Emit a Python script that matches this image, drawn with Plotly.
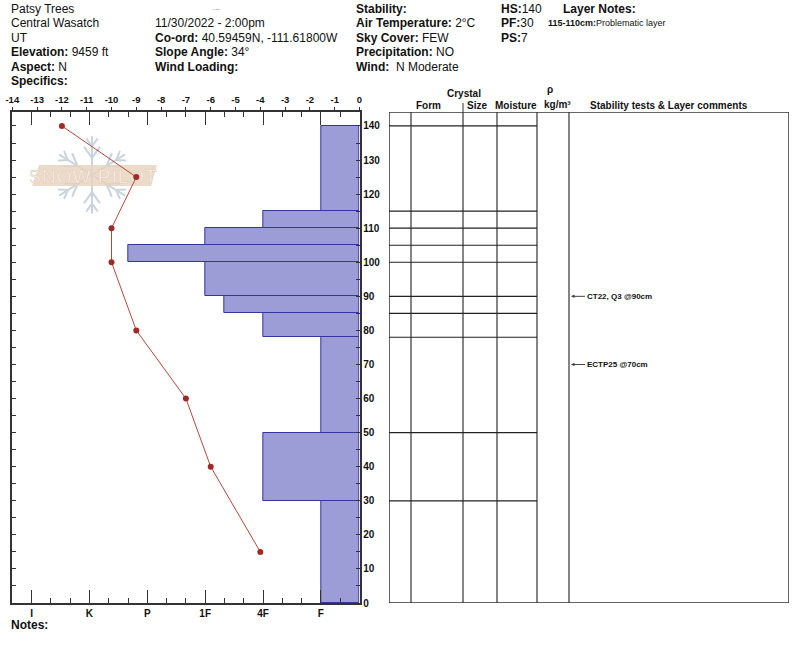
import base64
import math
import plotly.graph_objects as go

W, H = 800, 666

# snow layers, heights in cm above ground
layer_top = [140, 115, 110, 105, 100, 90, 85, 78, 50, 30]
layer_bottom = [115, 110, 105, 100, 90, 85, 78, 50, 30, 0]
layer_hardness = ["F", "4F", "1F", "P+", "1F", "1F-", "4F", "F", "4F", "F"]

# snow temperature profile
temp_height = [140, 125, 110, 100, 80, 60, 40, 15]
temp_c = [-12, -9, -10, -10, -9, -7, -6, -4]

# hand hardness scale (index units from the snow surface side)
hardness_labels = ["F", "4F", "1F", "P", "K", "I"]
hardness_index = [2, 5, 8, 11, 14, 17]

temp_ticks = list(range(-14, 1))
height_ticks = list(range(0, 141, 10))

# stability tests
test_names = ["CT22, Q3", "ECTP25"]
test_height = [90, 70]

# header info
site = ["Patsy Trees", "Central Wasatch", "UT"]
elevation = "9459 ft"
aspect = "N"
obs_time = "11/30/2022 - 2:00pm"
coord = "40.59459N, -111.61800W"
slope_angle = "34°"
air_temp = "2°C"
sky_cover = "FEW"
precip = "NO"
wind = "N Moderate"
hs, pf, ps = 140, 30, 7
layer_notes = [("115-110cm", "Problematic layer")]


def px(x):
    return x / W


def py(y):
    return 1 - y / H


hmap = dict(zip(hardness_labels, hardness_index))


def hard_val(h):
    v = hmap[h.rstrip("+-")]
    if h.endswith("+"):
        v += 1
    elif h.endswith("-"):
        v -= 1
    return v


mid = [(t + b) / 2 for t, b in zip(layer_top, layer_bottom)]
thick = [t - b for t, b in zip(layer_top, layer_bottom)]
hvals = [hard_val(h) for h in layer_hardness]

YMAX = 144.1
ydom = [py(603), py(112)]
font = "Liberation Sans, Arial, sans-serif"
axc = "#333333"

fig = go.Figure()

fig.add_trace(go.Bar(
    y=mid, x=hvals, width=thick, orientation="h",
    xaxis="x", yaxis="y",
    marker=dict(color="#9c9cd6", line=dict(color="#3535a0", width=1)),
    hoverinfo="skip",
))

fig.add_trace(go.Scatter(
    x=temp_c, y=temp_height, xaxis="x2", yaxis="y",
    mode="lines+markers",
    line=dict(color="#b5483c", width=1),
    marker=dict(color="#a02a26", size=6),
))

# snowpilot watermark (decorative)
cx, cy, L = 62, 40, 38
parts = []
for ang in [90, 32, -32, -90, -148, 148]:
    a = math.radians(ang)
    ex, ey = cx + L * math.cos(a), cy - L * math.sin(a)
    parts.append(f'<line x1="{cx}" y1="{cy}" x2="{ex:.1f}" y2="{ey:.1f}"/>')
    for f, bl in [(0.45, 13), (0.75, 9)]:
        bx, by = cx + f * L * math.cos(a), cy - f * L * math.sin(a)
        for d in (35, -35):
            b = math.radians(ang + d)
            parts.append(f'<line x1="{bx:.1f}" y1="{by:.1f}" x2="{bx + bl * math.cos(b):.1f}" y2="{by - bl * math.sin(b):.1f}"/>')
svg = (
    '<svg xmlns="http://www.w3.org/2000/svg" width="130" height="80" viewBox="0 0 130 80">'
    '<g stroke="#c9d4de" stroke-width="2" stroke-linecap="round">' + "".join(parts) + '</g>'
    '<polygon points="9,30 127,30 121,51 2,51" fill="#e8d2bd" opacity="0.8"/>'
    '<text x="63" y="47.5" font-family="Liberation Sans, Arial" font-size="19" fill="#fbf7f2" '
    'stroke="#dcc3aa" stroke-width="0.5" text-anchor="middle" letter-spacing="1">SNOW PILOT</text>'
    '</svg>'
)
logo = "data:image/svg+xml;base64," + base64.b64encode(svg.encode()).decode()

# table frame and column lines
col_edges = [411, 463, 497, 537, 569]
shapes = [dict(type="rect", xref="x3", yref="y2", x0=389, x1=789, y0=0, y1=YMAX,
               line=dict(color=axc, width=1.5))]
for cxe in col_edges:
    shapes.append(dict(type="line", xref="x3", yref="y2", x0=cxe, x1=cxe, y0=0, y1=YMAX,
                       line=dict(color=axc, width=1.2)))
for t in layer_top:
    shapes.append(dict(type="line", xref="x3", yref="y2", x0=389, x1=537, y0=t, y1=t,
                       line=dict(color="#222222", width=1.2)))
shapes.append(dict(type="line", xref="paper", yref="paper", x0=px(463), x1=px(463),
                   y0=py(112), y1=py(103), line=dict(color=axc, width=1)))

ann = []


def txt(x, y, s, size=12, anchor="left", color="#111111"):
    ann.append(dict(x=px(x), y=py(y), xref="paper", yref="paper", text=s, showarrow=False,
                    xanchor=anchor, yanchor="middle", font=dict(family=font, size=size, color=color)))


rows = [9, 23.4, 37.8, 52.2, 66.6, 81]
col1 = site + [f"<b>Elevation:</b> {elevation}", f"<b>Aspect:</b> {aspect}", "<b>Specifics:</b>"]
col2 = ["", obs_time, f"<b>Co-ord:</b> {coord}", f"<b>Slope Angle:</b> {slope_angle}", "<b>Wind Loading:</b>"]
col3 = ["<b>Stability:</b>", f"<b>Air Temperature:</b> {air_temp}", f"<b>Sky Cover:</b> {sky_cover}",
        f"<b>Precipitation:</b> {precip}", f"<b>Wind:</b>  {wind}"]
col4 = [f"<b>HS:</b>{hs}", f"<b>PF:</b>{pf}", f"<b>PS:</b>{ps}"]
for x0, col in [(9, col1), (153, col2), (354, col3), (499, col4)]:
    for r, s in zip(rows, col):
        if s:
            txt(x0, r, s)
txt(211, 8, "...", size=8, color="#666666")
txt(561, 9, "<b>Layer Notes:</b>")
for i, (depth, note) in enumerate(layer_notes):
    txt(546, 23.4 + 14.4 * i, f"<b>{depth}:</b>{note}", size=9)

for x0, y0, s in [(464, 93, "Crystal"), (428, 106, "Form"), (477, 106, "Size"), (516, 106, "Moisture"),
                  (550, 90, "ρ"), (557, 104, "kg/m³"), (669, 106, "Stability tests &amp; Layer comments")]:
    txt(x0, y0, f"<b>{s}</b>", size=10, anchor="center")
txt(9, 624.5, "<b>Notes:</b>")

for name, h in zip(test_names, test_height):
    ann.append(dict(x=571, y=h, xref="x3", yref="y2", ax=14, ay=0, text=f"<b>{name} @{h}cm</b>",
                    showarrow=True, arrowhead=2, arrowsize=0.7, arrowwidth=1, arrowcolor="#444444",
                    xanchor="left", yanchor="middle", standoff=0,
                    font=dict(family=font, size=8, color="#111111")))

tickfont = dict(family=font, size=10, color="#111111", weight="bold")

fig.update_layout(
    width=W, height=H, autosize=False,
    margin=dict(l=0, r=0, t=0, b=0, pad=0, autoexpand=False),
    paper_bgcolor="white", plot_bgcolor="rgba(0,0,0,0)",
    showlegend=False, bargap=0,
    xaxis=dict(domain=[px(12.3), px(359.5)], range=[18, 0], anchor="y", side="bottom",
               tickmode="array", tickvals=hardness_index, ticktext=hardness_labels,
               ticks="inside", ticklen=13, tickwidth=1, tickcolor=axc,
               minor=dict(tickmode="linear", tick0=0, dtick=1, ticks="inside", ticklen=5,
                          tickcolor=axc, showgrid=False),
               showline=True, linecolor=axc, linewidth=1.5, mirror="ticks", automargin=False,
               showgrid=False, zeroline=False, tickfont=tickfont, fixedrange=True),
    xaxis2=dict(domain=[px(12.3), px(359.5)], range=[-14, 0], anchor="y", overlaying="x", side="top",
                tickmode="array", tickvals=temp_ticks, ticktext=[str(v) for v in temp_ticks],
                ticks="outside", ticklen=4, tickcolor=axc, showline=False, showgrid=False,
                zeroline=False, automargin=False,
                tickfont=dict(family=font, size=9.5, color="#111111", weight="bold")),
    yaxis=dict(domain=ydom, range=[0, YMAX], anchor="x", side="right",
               tickmode="array", tickvals=height_ticks, ticks="inside", ticklen=4, tickcolor=axc,
               minor=dict(tickmode="array", tickvals=list(range(5, 141, 10)), ticks="inside",
                          ticklen=4, tickcolor=axc, showgrid=False),
               showline=True, linecolor=axc, linewidth=1.5, mirror="ticks", automargin=False,
               showgrid=False, zeroline=False, tickfont=tickfont),
    xaxis3=dict(domain=[px(389), px(789)], range=[389, 789], anchor="y2", visible=False),
    yaxis2=dict(domain=ydom, range=[0, YMAX], anchor="x3", visible=False),
    yaxis3=dict(domain=ydom, range=[0, YMAX], overlaying="y2", anchor="free", position=px(411),
                side="right", tickmode="linear", tick0=0, dtick=5, ticks="outside", ticklen=4,
                tickcolor=axc, showticklabels=False, showline=False, showgrid=False, zeroline=False,
                automargin=False),
    yaxis4=dict(domain=ydom, range=[0, YMAX], overlaying="y2", anchor="free", position=px(569),
                side="left", tickmode="linear", tick0=0, dtick=5, ticks="outside", ticklen=6,
                tickcolor=axc, showticklabels=False, showline=False, showgrid=False, zeroline=False,
                automargin=False),
    shapes=shapes,
    annotations=ann,
    images=[dict(source=logo, xref="paper", yref="paper", x=px(30), y=py(135),
                 sizex=130 / W, sizey=80 / H, xanchor="left", yanchor="top",
                 sizing="stretch", layer="below")],
)

page_css = (
    "document.documentElement.style.overflow='hidden';"
    "document.body.style.margin='0';document.body.style.overflow='hidden';"
)
fig.write_html("out.html", config={"displayModeBar": False}, post_script=page_css)
